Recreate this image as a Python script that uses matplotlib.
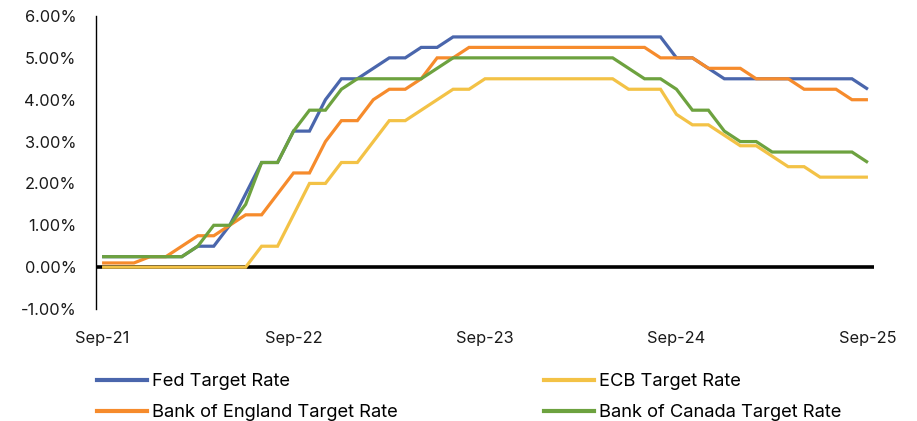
import matplotlib
matplotlib.use("Agg")
import matplotlib.pyplot as plt
from matplotlib.lines import Line2D
import numpy as np

months = ["Sep-21","Oct-21","Nov-21","Dec-21","Jan-22","Feb-22","Mar-22","Apr-22","May-22","Jun-22",
          "Jul-22","Aug-22","Sep-22","Oct-22","Nov-22","Dec-22","Jan-23","Feb-23","Mar-23","Apr-23",
          "May-23","Jun-23","Jul-23","Aug-23","Sep-23","Oct-23","Nov-23","Dec-23","Jan-24","Feb-24",
          "Mar-24","Apr-24","May-24","Jun-24","Jul-24","Aug-24","Sep-24","Oct-24","Nov-24","Dec-24",
          "Jan-25","Feb-25","Mar-25","Apr-25","May-25","Jun-25","Jul-25","Aug-25","Sep-25"]

fed = [0.25]*6 + [0.5, 0.5, 1.0, 1.75, 2.5, 2.5, 3.25, 3.25, 4.0, 4.5, 4.5, 4.75, 5.0, 5.0, 5.25, 5.25] \
      + [5.5]*14 + [5.0, 5.0, 4.75] + [4.5]*9 + [4.25]
ecb = [0.0]*10 + [0.5, 0.5, 1.25, 2.0, 2.0, 2.5, 2.5, 3.0, 3.5, 3.5, 3.75, 4.0, 4.25, 4.25] \
      + [4.5]*9 + [4.25, 4.25, 4.25, 3.65, 3.40, 3.40, 3.15, 2.90, 2.90, 2.65, 2.40, 2.40] + [2.15]*4
boe = [0.1, 0.1, 0.1, 0.25, 0.25, 0.5, 0.75, 0.75, 1.0, 1.25, 1.25, 1.75, 2.25, 2.25, 3.0, 3.5, 3.5,
       4.0, 4.25, 4.25, 4.5, 5.0, 5.0] + [5.25]*12 \
      + [5.0, 5.0, 5.0, 4.75, 4.75, 4.75, 4.5, 4.5, 4.5, 4.25, 4.25, 4.25, 4.0, 4.0]
boc = [0.25]*6 + [0.5, 1.0, 1.0, 1.5, 2.5, 2.5, 3.25, 3.75, 3.75, 4.25] + [4.5]*5 + [4.75] + [5.0]*11 \
      + [4.75, 4.5, 4.5, 4.25, 3.75, 3.75, 3.25, 3.0, 3.0] + [2.75]*6 + [2.5]

series_names = ["Fed Target Rate", "ECB Target Rate", "Bank of England Target Rate", "Bank of Canada Target Rate"]
yticks = [-1, 0, 1, 2, 3, 4, 5, 6]
xtick_labels = ["Sep-21", "Sep-22", "Sep-23", "Sep-24", "Sep-25"]

colors = {"Fed Target Rate": "#4A66AC", "ECB Target Rate": "#F3C246",
          "Bank of England Target Rate": "#F68B2C", "Bank of Canada Target Rate": "#6DA23F"}
data = {"Fed Target Rate": fed, "ECB Target Rate": ecb,
        "Bank of England Target Rate": boe, "Bank of Canada Target Rate": boc}

plt.rcParams['font.family'] = ['Inter', 'DejaVu Sans']
FS = 11.8
LFS = 13.2

fig = plt.figure(figsize=(9.17, 4.21), dpi=100)
ax = fig.add_axes([96/917, 1-309/421, (874-96)/917, (309-16)/421])

x = np.arange(len(months))
ax.axhline(0, color="black", lw=2.6, zorder=1)
for name in series_names:
    ax.plot(x, data[name], color=colors[name], lw=2.3, solid_joinstyle="miter",
            solid_capstyle="butt", zorder=2, label=name)

ax.set_xlim(-0.38, len(months) - 1 + 0.38)
ax.set_ylim(-1, 6)
ax.set_yticks(yticks)
ax.set_yticklabels([f"{v:.2f}%" for v in yticks])
xt = [months.index(m) for m in xtick_labels]
ax.set_xticks(xt)
ax.set_xticklabels(xtick_labels)
ax.tick_params(axis="both", length=0, labelsize=FS, colors="#1a1a1a")
ax.tick_params(axis="y", pad=14)
ax.tick_params(axis="x", pad=16)
for s in ["top", "right", "bottom"]:
    ax.spines[s].set_visible(False)
ax.spines["left"].set_linewidth(1.0)
ax.spines["left"].set_color("black")

def handles(names):
    return [Line2D([0], [0], color=colors[n], lw=3) for n in names]

leg_kw = dict(frameon=False, fontsize=LFS, handlelength=2.75, handletextpad=0.25,
              labelspacing=0.78, borderpad=0, borderaxespad=0, loc="upper left")
l1 = fig.legend(handles(["Fed Target Rate", "Bank of England Target Rate"]),
                ["Fed Target Rate", "Bank of England Target Rate"],
                bbox_to_anchor=(97/917, 1-373/421), **leg_kw)
l2 = fig.legend(handles(["ECB Target Rate", "Bank of Canada Target Rate"]),
                ["ECB Target Rate", "Bank of Canada Target Rate"],
                bbox_to_anchor=(544/917, 1-373/421), **leg_kw)

fig.savefig("out.png", dpi=100)
